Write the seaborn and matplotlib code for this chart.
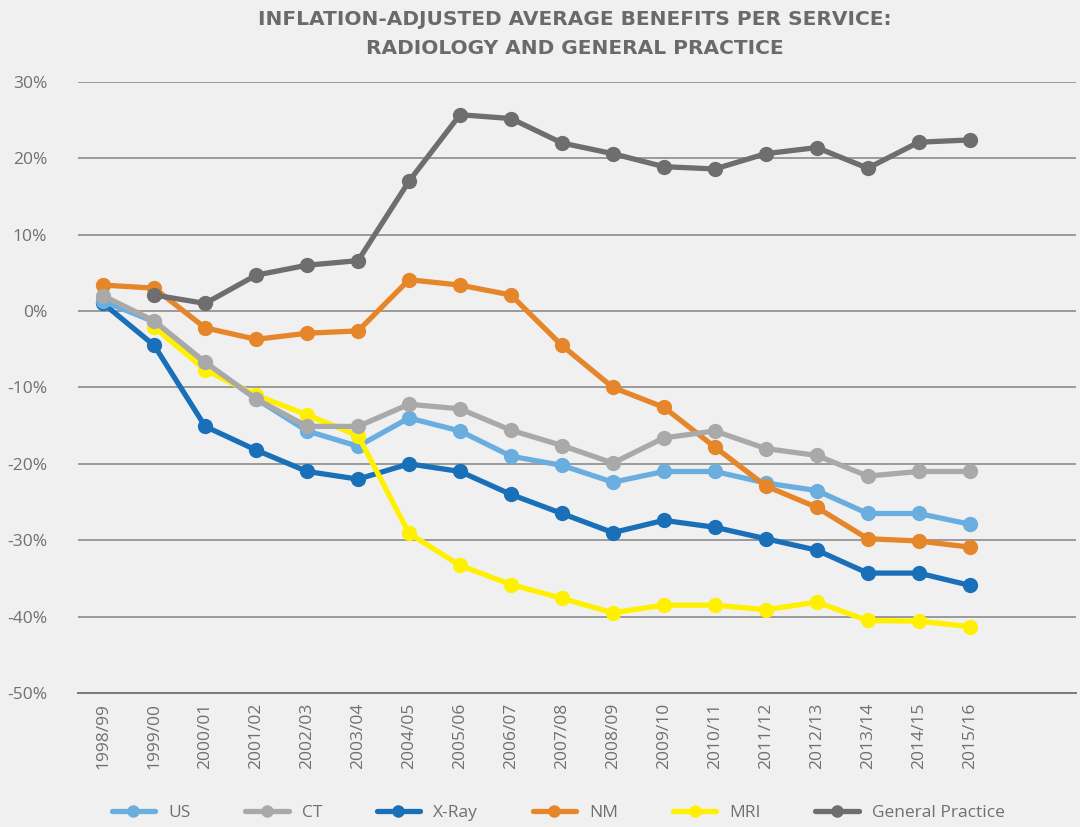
import matplotlib
matplotlib.use("Agg")
import matplotlib.pyplot as plt
from matplotlib.lines import Line2D
import seaborn as sns
import numpy as np
import pandas as pd

# data (percent change)
years = ["1998/99", "1999/00", "2000/01", "2001/02", "2002/03", "2003/04",
         "2004/05", "2005/06", "2006/07", "2007/08", "2008/09", "2009/10",
         "2010/11", "2011/12", "2012/13", "2013/14", "2014/15", "2015/16"]

us = [1.3, -1.4, -6.8, -11.5, -15.7, -17.7, -14.0, -15.7, -19.0, -20.2,
      -22.4, -21.0, -21.0, -22.5, -23.5, -26.5, -26.5, -27.9]
ct = [2.0, -1.3, -6.7, -11.5, -15.1, -15.1, -12.2, -12.8, -15.6, -17.6,
      -19.9, -16.6, -15.7, -18.0, -18.9, -21.6, -21.0, -21.0]
xray = [1.0, -4.5, -15.1, -18.2, -21.0, -22.0, -20.0, -21.0, -24.0, -26.5,
        -29.0, -27.4, -28.3, -29.8, -31.3, -34.3, -34.3, -35.9]
nm = [3.4, 3.0, -2.2, -3.7, -2.9, -2.6, 4.1, 3.4, 2.1, -4.5,
      -10.0, -12.6, -17.8, -22.9, -25.7, -29.8, -30.1, -30.9]
mri = [np.nan, -2.1, -7.7, -11.0, -13.6, -16.3, -29.1, -33.3, -35.8, -37.6,
       -39.5, -38.5, -38.5, -39.1, -38.1, -40.5, -40.6, -41.3]
gp = [np.nan, 2.1, 1.0, 4.7, 6.0, 6.6, 17.0, 25.7, 25.2, 22.0,
      20.6, 18.9, 18.6, 20.6, 21.4, 18.7, 22.1, 22.4]

series = {"US": us, "CT": ct, "X-Ray": xray, "NM": nm, "MRI": mri,
          "General Practice": gp}
colors = {"US": "#6aaee0", "CT": "#a9a9a9", "X-Ray": "#1a70b8",
          "NM": "#e5862a", "MRI": "#fff000", "General Practice": "#6e6e6e"}
draw_order = ["X-Ray", "US", "MRI", "NM", "CT", "General Practice"]
legend_order = ["US", "CT", "X-Ray", "NM", "MRI", "General Practice"]

sns.set_style("white")
plt.rcParams["font.family"] = ["Open Sans", "DejaVu Sans"]
bg = "#f0f0f0"
txt = "#707070"

fig = plt.figure(figsize=(10.8, 8.27), dpi=100, facecolor=bg)
ax = fig.add_axes([0.072, 0.162, 0.924, 0.739])
ax.set_facecolor(bg)

pos = np.arange(len(years))
for i, name in enumerate(draw_order):
    df = pd.DataFrame({"x": pos, "y": series[name]}).dropna()
    sns.lineplot(data=df, x="x", y="y", ax=ax, color=colors[name],
                 linewidth=3.8, marker="o", markersize=11,
                 markeredgewidth=0, zorder=3 + i, legend=False)

ax.set_xlim(-0.5, 19.08)
ax.set_ylim(-50, 30)
ax.set_yticks(range(-50, 31, 10))
ax.set_yticklabels([f"{v}%" for v in range(-50, 31, 10)])
ax.set_xticks(pos)
ax.set_xticklabels(years, rotation=90)
ax.tick_params(axis="both", length=0, labelsize=12.5, labelcolor=txt)
ax.tick_params(axis="y", pad=22)
ax.tick_params(axis="x", pad=7)
ax.set_xlabel("")
ax.set_ylabel("")

ax.grid(axis="y", color="#8c8c8c", linewidth=1.2, zorder=0)
ax.grid(axis="x", visible=False)
for s in ["top", "right", "left"]:
    ax.spines[s].set_visible(False)
ax.spines["bottom"].set_color("#7a7a7a")
ax.spines["bottom"].set_linewidth(1.4)

handles = [Line2D([0], [0], color=colors[n], linewidth=3.8, marker="o",
                  markersize=9, markeredgewidth=0) for n in legend_order]
fig.legend(handles, legend_order, loc="lower left", ncol=6, frameon=False,
           bbox_to_anchor=(0.089, -0.012), handlelength=2.5,
           columnspacing=3.15, handletextpad=0.75, fontsize=12.5,
           labelcolor=txt)

fig.text(0.532, 0.988, "INFLATION-ADJUSTED AVERAGE BENEFITS PER SERVICE:\nRADIOLOGY AND GENERAL PRACTICE",
         ha="center", va="top", fontsize=14.5, fontweight="bold", color="#6a6a6a",
         family=["DejaVu Sans"], linespacing=1.65)

fig.savefig("out.png", dpi=100, facecolor=bg)
